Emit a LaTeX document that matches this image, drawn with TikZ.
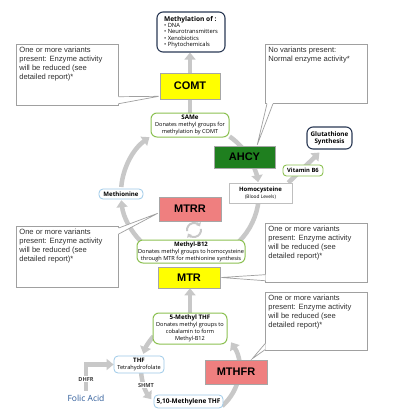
\documentclass[tikz,border=0pt]{standalone}
\usepackage{fontspec}
\setmainfont{Open Sans}
\newfontfamily\arl{Liberation Sans}
\usetikzlibrary{arrows.meta,calc}
\definecolor{yel}{HTML}{FFFF00}
\definecolor{ahcyg}{HTML}{1F7F1F}
\definecolor{pinkf}{HTML}{EF7F7F}
\definecolor{greenb}{HTML}{8CC152}
\definecolor{blueb}{HTML}{9CC9E8}
\definecolor{navyb}{HTML}{2B3A55}
\definecolor{cgray}{HTML}{A0A0A0}
\definecolor{ctext}{HTML}{303030}
\definecolor{agray}{HTML}{C8C8C8}
\definecolor{folicb}{HTML}{2E5C9A}
\pgfdeclarelayer{bg}
\pgfsetlayers{bg,main}
\begin{document}
\begin{tikzpicture}[x=1pt,y=-1pt,
  every node/.style={inner sep=0pt, align=center, text=black},
  gline/.style={draw=agray, line width=4.5pt},
  garrow/.style={gline, -{Triangle[width=11pt,length=7pt]}},
  enz/.style={draw=black!35, line width=0.6pt, font=\arl\bfseries\fontsize{11}{12}\selectfont},
  gbox/.style={draw=greenb, line width=1pt, rounded corners=6pt, fill=white, font=\fontsize{5.6}{6.9}\selectfont},
  bbox/.style={draw=blueb, line width=0.8pt, rounded corners=4pt, fill=white, font=\bfseries\fontsize{6.1}{7}\selectfont},
  nbox/.style={draw=navyb, line width=1.1pt, rounded corners=6pt, fill=white},
  cbox/.style={draw=cgray, line width=0.7pt, fill=white, inner sep=3pt, align=left, text=ctext, font=\arl\fontsize{7.6}{9}\selectfont},
  cline/.style={draw=cgray, line width=0.7pt},
  smalllab/.style={fill=white, inner sep=1pt, text=black!75, font=\bfseries\fontsize{5.6}{6}\selectfont}
]
\begin{pgfonlayer}{bg}
\fill[white] (0,0) rectangle (400,416);
\end{pgfonlayer}
\useasboundingbox (0,0) rectangle (400,416);

% cycle centres
\coordinate (cyc) at (190,193);
\coordinate (fol) at (190,369);

% big cycle arcs
\draw[garrow] ([shift={(185:69)}]cyc) arc[start angle=185, end angle=234, radius=69];
\draw[gline] ([shift={(305:69)}]cyc) arc[start angle=305, end angle=320, radius=69];
\draw[garrow] ([shift={(336:69)}]cyc) arc[start angle=336, end angle=351, radius=69];
\draw[gline] ([shift={(6:69)}]cyc) arc[start angle=6, end angle=45, radius=69];
\draw[garrow] ([shift={(135:69)}]cyc) arc[start angle=135, end angle=174, radius=69];

% folate cycle arcs
\draw[garrow] ([shift={(222:49)}]fol) arc[start angle=222, end angle=198, radius=49];
\draw[garrow] ([shift={(177:49)}]fol) arc[start angle=177, end angle=142, radius=49];
\draw[garrow] ([shift={(49:49)}]fol) arc[start angle=49, end angle=-33, radius=49];

% refresh icon
\coordinate (ref) at (194,230);
\draw[draw=agray, line width=2pt, -{Triangle[width=5.5pt,length=3.5pt]}] ([shift={(-10:7)}]ref) arc[start angle=-10, end angle=150, radius=7];
\draw[draw=agray, line width=2pt, -{Triangle[width=5.5pt,length=3.5pt]}] ([shift={(170:7)}]ref) arc[start angle=170, end angle=330, radius=7];

% nodes
\node[nbox, minimum width=68, minimum height=40, align=left, font=\fontsize{5.8}{6.3}\selectfont] (meth) at (191,32)
  {{\bfseries\fontsize{6.6}{7.5}\selectfont Methylation of :}\\ \textbullet\ DNA\\ \textbullet\ Neurotransmitters\\ \textbullet\ Xenobiotics\\ \textbullet\ Phytochemicals};
\node[enz, fill=yel, minimum width=60, minimum height=26] (comt) at (190,86) {COMT};
\node[gbox, minimum width=78, minimum height=24] (same) at (190,125)
  {{\bfseries\fontsize{6.2}{7}\selectfont SAMe}\\ Donates methyl groups for\\ methylation by COMT};
\node[enz, fill=ahcyg, minimum width=61, minimum height=22] (ahcy) at (244.5,157) {AHCY};
\node[draw=black!25, line width=0.6pt, fill=white, minimum width=63, minimum height=20, font=\fontsize{5}{6.6}\selectfont] (homo) at (260.5,193)
  {{\bfseries\fontsize{6}{7}\selectfont Homocysteine}\\{\fontsize{4.8}{5.6}\selectfont (Blood Levels)}};
\node[nbox, minimum width=45, minimum height=22, font=\bfseries\fontsize{6.3}{7.2}\selectfont] (glut) at (329.5,138) {Glutathione\\Synthesis};
\node[bbox, minimum width=44, minimum height=10] (methio) at (121,194) {Methionine};
\node[enz, fill=pinkf, minimum width=62, minimum height=24] (mtrr) at (190,209) {MTRR};
\node[gbox, minimum width=108, minimum height=23] (b12) at (191,251.5)
  {{\bfseries\fontsize{6}{6.8}\selectfont Methyl-B12}\\ Donates methyl groups to homocysteine\\ through MTR for methionine synthesis};
\node[enz, fill=yel, minimum width=62, minimum height=21] (mtr) at (189,277.5) {MTR};
\node[gbox, minimum width=74, minimum height=31] (mthf) at (190,328.5)
  {{\bfseries\fontsize{6.2}{7}\selectfont 5-Methyl THF}\\ Donates methyl groups to\\ cobalamin to form\\ Methyl-B12};
\node[bbox, minimum width=50, minimum height=17] (thf) at (139,364.5)
  {THF\\{\mdseries\fontsize{5.6}{6.4}\selectfont Tetrahydrofolate}};
\node[enz, fill=pinkf, minimum width=62, minimum height=24] (mthfr) at (236,372) {MTHFR};
\node[bbox, minimum width=69, minimum height=13, font=\bfseries\fontsize{6.5}{7}\selectfont] (mlthf) at (188.5,401.5) {5,10-Methylene THF};
\node[text=folicb, font=\fontsize{8.5}{10}\selectfont] (folic) at (86,398) {Folic Acid};
\node[smalllab] (dhfr) at (86,379) {DHFR};
\node[smalllab] (shmt) at (146,385) {SHMT};

% arrows from nodes (behind)
\begin{pgfonlayer}{bg}
\draw[garrow] (same.north) -- (same.north |- meth.south);
\draw[garrow] (mthf.north) -- (mthf.north |- mtr.south);
\draw[garrow] ([yshift=4pt]folic.north) |- (thf.west);
\draw[garrow] ($(homo.north east)+(-4,0)$) -- ($(glut.south west)+(13,3)$);
\end{pgfonlayer}
\node[draw=greenb, line width=0.9pt, rounded corners=3.5pt, fill=white, minimum width=40, minimum height=11, font=\bfseries\fontsize{5.8}{7}\selectfont] (vitb6) at (303,170.5) {Vitamin B6};

% comment boxes
\node[cbox, anchor=north west] (c1) at (16,44) {\parbox[c][55pt][t]{96pt}{One or more variants\\present: Enzyme activity\\will be reduced (see\\detailed report)*}};
\node[cbox, anchor=north west] (c2) at (265,44) {\parbox[c][53pt][t]{96pt}{No variants present:\\Normal enzyme activity*}};
\node[cbox, anchor=north west] (c3) at (16,226) {\parbox[c][55pt][t]{96pt}{One or more variants\\present: Enzyme activity\\will be reduced (see\\detailed report)*}};
\node[cbox, anchor=north west] (c4) at (265,223) {\parbox[c][53pt][t]{96pt}{One or more variants\\present: Enzyme activity\\will be reduced (see\\detailed report)*}};
\node[cbox, anchor=north west] (c5) at (265,292) {\parbox[c][52pt][t]{96pt}{One or more variants\\present: Enzyme activity\\will be reduced (see\\detailed report)*}};

% callout pointers
\fill[white] ($(c1.south east)+(-0.5,-9)$) -- ($(comt.south west)+(-1,-3)$) -- ($(c1.south east)+(-0.5,-2)$) -- cycle;
\draw[cline] ($(c1.south east)+(0,-9)$) -- ($(comt.south west)+(-1,-3)$) -- ($(c1.south east)+(0,-2)$);

\fill[white] ($(c2.south west)+(2,-0.5)$) -- ($(ahcy.north east)+(-18,-1)$) -- ($(c2.south west)+(8,-0.5)$) -- cycle;
\draw[cline] ($(c2.south west)+(2,0)$) -- ($(ahcy.north east)+(-18,-1)$) -- ($(c2.south west)+(8,0)$);

\fill[white] ($(c3.north east)+(-0.5,2)$) -- ($(mtrr.south west)+(-1,-8)$) -- ($(c3.north east)+(-0.5,8)$) -- cycle;
\draw[cline] ($(c3.north east)+(0,2)$) -- ($(mtrr.south west)+(-1,-8)$) -- ($(c3.north east)+(0,8)$);

\fill[white] ($(c4.south west)+(0.5,-8)$) -- ($(mtr.east)+(1,0)$) -- ($(c4.south west)+(0.5,-2)$) -- cycle;
\draw[cline] ($(c4.south west)+(0,-8)$) -- ($(mtr.east)+(1,0)$) -- ($(c4.south west)+(0,-2)$);

\fill[white] ($(c5.south west)+(0.5,-7)$) -- ($(mthfr.north east)+(-15,-1)$) -- ($(c5.south west)+(0.5,-1)$) -- cycle;
\draw[cline] ($(c5.south west)+(0,-7)$) -- ($(mthfr.north east)+(-15,-1)$) -- ($(c5.south west)+(0,-1)$);
\end{tikzpicture}
\end{document}
